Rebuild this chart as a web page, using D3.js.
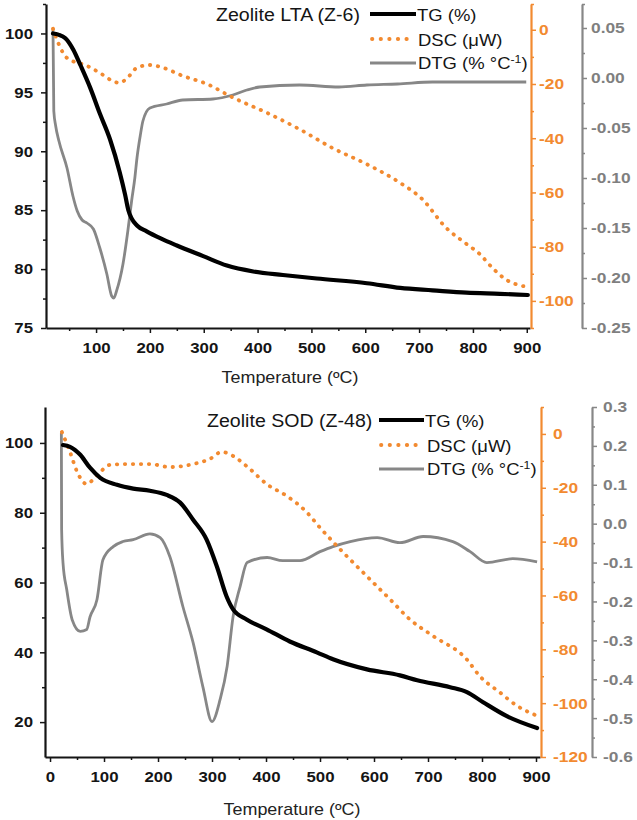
<!DOCTYPE html>
<html>
<head>
<meta charset="utf-8">
<script src="https://cdn.jsdelivr.net/npm/d3@7"></script>
<style>
  html, body { margin: 0; padding: 0; background: #fff; }
  svg { display: block; font-family: "Liberation Sans", Arial, sans-serif; }
</style>
</head>
<body>
<svg id="chart" width="637" height="820"></svg>
<script>
// ---------------- DATA ----------------
// Panel A: Zeolite LTA (Z-6)
const ltaTgTemp = [20, 30, 43, 58, 71, 89, 107, 126, 144, 154, 160, 166, 176, 194, 220, 250, 299, 343, 392, 447, 510, 603, 665, 725, 788, 850, 902];
const ltaTg     = [100, 99.9, 99.6, 98.6, 97.3, 95.4, 93.2, 91.0, 88.2, 86.3, 85.0, 84.3, 83.7, 83.2, 82.6, 82.0, 81.1, 80.3, 79.8, 79.5, 79.2, 78.8, 78.4, 78.2, 78.0, 77.9, 77.8];

const ltaDscTemp = [20, 30, 46, 83, 107, 130, 143, 157, 176, 200, 224, 261, 306, 354, 417, 478, 540, 603, 665, 705, 750, 788, 812, 837, 862, 899];
const ltaDsc     = [0.4, -5, -10.4, -13.3, -15.9, -18.8, -19.6, -18, -14, -13, -14, -17, -20, -25, -30.6, -36.7, -43.7, -49.6, -56.5, -62.3, -73, -79, -82.6, -88, -92.2, -94.8];

const ltaDtgTemp = [20, 21.5, 25, 31, 46, 57, 65, 74, 83, 95, 107, 120, 129, 133, 138, 150, 159, 166, 172, 176, 182, 187, 200, 231, 261, 317, 354, 380, 404, 478, 551, 603, 660, 725, 800, 899];
const ltaDtg     = [0.049, -0.033, -0.048, -0.063, -0.09, -0.118, -0.133, -0.142, -0.145, -0.151, -0.17, -0.196, -0.218, -0.22, -0.213, -0.186, -0.153, -0.123, -0.1, -0.08, -0.058, -0.043, -0.03, -0.026, -0.022, -0.021, -0.017, -0.012, -0.009, -0.007, -0.009, -0.007, -0.006, -0.004, -0.004, -0.004];

// Panel B: Zeolite SOD (Z-48)
const sodTgTemp = [24, 37, 56, 74, 93, 124, 154, 185, 216, 241, 265, 290, 309, 327, 339, 364, 401, 444, 494, 524, 587, 648, 680, 741, 772, 802, 846, 902];
const sodTg     = [99.4, 98.9, 96.6, 92.9, 90, 88, 86.9, 86.3, 85.1, 82.9, 78, 72.3, 64.6, 56, 52.3, 49.4, 46.6, 43.1, 40.0, 38, 35.1, 33.4, 32, 30, 28.6, 25.7, 21.7, 18.3];

const sodDscTemp = [22, 37, 50, 68, 86, 111, 142, 185, 222, 265, 296, 318, 339, 370, 401, 438, 475, 500, 537, 587, 630, 667, 709, 772, 796, 833, 865, 902];
const sodDsc     = [0.7, -6.7, -14, -18.6, -15.6, -11.5, -11.2, -11.2, -12.3, -11.2, -9.3, -6.7, -8.2, -13, -18.6, -23, -29, -34.8, -42.8, -52.9, -61.5, -69, -75, -83.8, -90, -96, -101, -104.7];

const sodDtgTemp = [21, 21.5, 24, 31, 41, 56, 68, 74, 87, 98, 117, 135, 154, 185, 204, 222, 246, 265, 283, 300, 315, 328, 339, 352, 365, 402, 431, 463, 500, 524, 556, 606, 648, 691, 746, 778, 809, 857, 902];
const sodDtg     = [0.234, -0.015, -0.1, -0.17, -0.247, -0.277, -0.272, -0.24, -0.195, -0.093, -0.059, -0.046, -0.041, -0.026, -0.036, -0.085, -0.213, -0.306, -0.419, -0.509, -0.452, -0.367, -0.239, -0.162, -0.1, -0.087, -0.095, -0.095, -0.072, -0.059, -0.046, -0.036, -0.049, -0.033, -0.046, -0.072, -0.1, -0.09, -0.098];

// Tick values
const tempTicksA = [100, 200, 300, 400, 500, 600, 700, 800, 900];
const tempTicksB = [0, 100, 200, 300, 400, 500, 600, 700, 800, 900];
const tempMinor  = [50, 150, 250, 350, 450, 550, 650, 750, 850];
const tgTicksA   = [75, 80, 85, 90, 95, 100];
const tgMinorA   = [77.5, 82.5, 87.5, 92.5, 97.5, 102.5];
const dscTicksA  = [-100, -80, -60, -40, -20, 0];
const dscMinorA  = [-110, -90, -70, -50, -30, -10, 9.5];
const dtgTicksA  = [-0.25, -0.2, -0.15, -0.1, -0.05, 0, 0.05];
const dtgMinorA  = [-0.225, -0.175, -0.125, -0.075, -0.025, 0.025, 0.074];
const tgTicksB   = [20, 40, 60, 80, 100];
const tgMinorB   = [30, 50, 70, 90];
const dscTicksB  = [-120, -100, -80, -60, -40, -20, 0];
const dscMinorB  = [-110, -90, -70, -50, -30, -10, 10];
const dtgTicksB  = [-0.6, -0.5, -0.4, -0.3, -0.2, -0.1, 0, 0.1, 0.2, 0.3];
const dtgMinorB  = [-0.55, -0.45, -0.35, -0.25, -0.15, -0.05, 0.05, 0.15, 0.25];

const titleA = "Zeolite LTA (Z-6)";
const titleB = "Zeolite SOD (Z-48)";
const seriesNames = ["TG (%)", "DSC (\u03bcW)", "DTG (% \u00b0C"];
const xTitle = "Temperature (\u00baC)";

// ---------------- STYLE ----------------
const ORANGE = "#F28A30";
const GRAY = "#878787";
const GRAYTXT = "#7f7f7f";
const INK = "#151515";
const STRETCH = 1.12;

const svg = d3.select("#chart");

function stretch(sel, s = STRETCH) {
  sel.each(function () {
    const t = d3.select(this);
    const x = +t.attr("x") || 0;
    t.attr("x", x / s).attr("transform", `scale(${s},1)`);
  });
}

function fmtInt(d) { return String(Math.round(d)); }

function panel(cfg) {
  const g = svg.append("g");
  const x = d3.scaleLinear().domain(cfg.xDomain).range([cfg.left, cfg.right]);
  const yL = d3.scaleLinear().domain(cfg.tgDomain).range([cfg.bottom, cfg.top]);
  const yO = d3.scaleLinear().domain(cfg.dscDomain).range([cfg.bottom, cfg.top]);
  const yG = d3.scaleLinear().domain(cfg.dtgDomain).range([cfg.bottom, cfg.top]);

  // --- X axis ---
  const xa = g.append("g").attr("transform", `translate(0,${cfg.bottom})`)
    .call(d3.axisBottom(x).tickValues(cfg.xTicks).tickSize(5).tickPadding(9.5).tickSizeOuter(0).tickFormat(fmtInt));
  g.append("g").attr("transform", `translate(0,${cfg.bottom})`)
    .call(d3.axisBottom(x).tickValues(tempMinor).tickSize(3).tickFormat("").tickSizeOuter(0))
    .call(s => s.select(".domain").remove())
    .call(s => s.selectAll("line").attr("stroke", INK).attr("stroke-width", 1.5));
  xa.select(".domain").attr("stroke", INK).attr("stroke-width", 2.2);
  xa.selectAll("line").attr("stroke", INK).attr("stroke-width", 1.5);
  xa.selectAll("text").attr("fill", INK).attr("font-size", 15).attr("font-weight", "bold");
  stretch(xa.selectAll("text"));

  // --- Left axis (TG) ---
  const la = g.append("g").attr("transform", `translate(${cfg.left},0)`)
    .call(d3.axisLeft(yL).tickValues(cfg.tgTicks).tickSize(5).tickPadding(cfg.leftPad).tickSizeOuter(0).tickFormat(fmtInt));
  g.append("g").attr("transform", `translate(${cfg.left},0)`)
    .call(d3.axisLeft(yL).tickValues(cfg.tgMinor).tickSize(3).tickFormat("").tickSizeOuter(0))
    .call(s => s.select(".domain").remove())
    .call(s => s.selectAll("line").attr("stroke", INK).attr("stroke-width", 1.5));
  la.select(".domain").attr("stroke", INK).attr("stroke-width", 2.2);
  la.selectAll("line").attr("stroke", INK).attr("stroke-width", 1.5);
  la.selectAll("text").attr("fill", INK).attr("font-size", 15).attr("font-weight", "bold");
  stretch(la.selectAll("text"));

  // --- Orange axis (DSC) ---
  const oa = g.append("g").attr("transform", `translate(${cfg.oAxisX},0)`)
    .call(d3.axisRight(yO).tickValues(cfg.dscTicks).tickSize(5).tickPadding(cfg.oPad).tickSizeOuter(0).tickFormat(fmtInt));
  g.append("g").attr("transform", `translate(${cfg.oAxisX},0)`)
    .call(d3.axisRight(yO).tickValues(cfg.dscMinor).tickSize(3).tickFormat("").tickSizeOuter(0))
    .call(s => s.select(".domain").remove())
    .call(s => s.selectAll("line").attr("stroke", ORANGE).attr("stroke-width", 1.5));
  oa.select(".domain").attr("stroke", ORANGE).attr("stroke-width", 2.2);
  oa.selectAll("line").attr("stroke", ORANGE).attr("stroke-width", 1.5);
  oa.selectAll("text").attr("fill", ORANGE).attr("font-size", 15.5).attr("font-weight", "bold");
  stretch(oa.selectAll("text"));

  // --- Gray axis (DTG) ---
  const ga = g.append("g").attr("transform", `translate(${cfg.gAxisX},0)`)
    .call(d3.axisRight(yG).tickValues(cfg.dtgTicks).tickSize(5).tickPadding(cfg.gPad).tickSizeOuter(0).tickFormat(cfg.dtgFmt));
  g.append("g").attr("transform", `translate(${cfg.gAxisX},0)`)
    .call(d3.axisRight(yG).tickValues(cfg.dtgMinor).tickSize(3).tickFormat("").tickSizeOuter(0))
    .call(s => s.select(".domain").remove())
    .call(s => s.selectAll("line").attr("stroke", GRAY).attr("stroke-width", 1.5));
  ga.select(".domain").attr("stroke", GRAY).attr("stroke-width", 2.2);
  ga.selectAll("line").attr("stroke", GRAY).attr("stroke-width", 1.5);
  ga.selectAll("text").attr("fill", GRAYTXT).attr("font-size", 15.5).attr("font-weight", "bold");
  stretch(ga.selectAll("text"));

  // --- Series ---
  const mk = (ys) => d3.line().x(d => x(d[0])).y(d => ys(d[1])).curve(d3.curveMonotoneX);
  const zip = (a, b) => a.map((t, i) => [t, b[i]]);

  g.append("path").datum(zip(cfg.dtgT, cfg.dtg))
    .attr("d", mk(yG)).attr("fill", "none").attr("stroke", GRAY).attr("stroke-width", 2.8)
    .attr("stroke-linejoin", "round");
  g.append("path").datum(zip(cfg.dscT, cfg.dsc))
    .attr("d", mk(yO)).attr("fill", "none").attr("stroke", ORANGE).attr("stroke-width", 3.8)
    .attr("stroke-linecap", "round").attr("stroke-dasharray", "0.4 7.6");
  g.append("path").datum(zip(cfg.tgT, cfg.tg))
    .attr("d", mk(yL)).attr("fill", "none").attr("stroke", "#000").attr("stroke-width", 4.2)
    .attr("stroke-linejoin", "round").attr("stroke-linecap", "round");

  // --- Legend ---
  const L = cfg.legend;
  const lt = g.append("text").attr("x", L.titleX).attr("y", L.titleY)
    .attr("font-size", 17.5).attr("fill", INK).text(cfg.title);
  stretch(lt);
  g.append("line").attr("x1", L.lineX1).attr("x2", L.lineX2).attr("y1", L.rows[0]).attr("y2", L.rows[0])
    .attr("stroke", "#000").attr("stroke-width", 4.2);
  g.append("line").attr("x1", L.lineX1 + 2).attr("x2", L.lineX2 - 3).attr("y1", L.rows[1]).attr("y2", L.rows[1])
    .attr("stroke", ORANGE).attr("stroke-width", 3.8).attr("stroke-linecap", "round").attr("stroke-dasharray", "0.4 8.2");
  g.append("line").attr("x1", L.lineX1).attr("x2", L.lineX2).attr("y1", L.rows[2]).attr("y2", L.rows[2])
    .attr("stroke", GRAY).attr("stroke-width", 2.8);
  const t0 = g.append("text").attr("x", L.textX0).attr("y", L.rows[0] + 7.5).attr("font-size", 16.5).attr("fill", INK).text(seriesNames[0]);
  const t1 = g.append("text").attr("x", L.textX).attr("y", L.rows[1] + 7).attr("font-size", 16.5).attr("fill", INK).text(seriesNames[1]);
  const t2 = g.append("text").attr("x", L.textX).attr("y", L.rows[2] + 6.5).attr("font-size", 16.5).attr("fill", INK);
  t2.append("tspan").text(seriesNames[2]);
  t2.append("tspan").attr("font-size", 11).attr("dy", -6).text("-1");
  t2.append("tspan").attr("dy", 6).text(")");
  stretch(t0); stretch(t1); stretch(t2);

  // --- X title ---
  const xt = g.append("text").attr("x", cfg.xTitleX).attr("y", cfg.xTitleY)
    .attr("text-anchor", "middle").attr("font-size", 16).attr("fill", "#222").text(xTitle);
  stretch(xt);
}

panel({
  xDomain: [7, 906], left: 46, right: 530, top: 4, bottom: 328,
  tgDomain: [75, 102.5], dscDomain: [-110, 9.5], dtgDomain: [-0.25, 0.074],
  xTicks: tempTicksA, tgTicks: tgTicksA, tgMinor: tgMinorA,
  dscTicks: dscTicksA, dscMinor: dscMinorA, dtgTicks: dtgTicksA, dtgMinor: dtgMinorA,
  dtgFmt: d => d.toFixed(2),
  leftPad: 8, oAxisX: 531, oPad: 3, gAxisX: 582, gPad: 4,
  tgT: ltaTgTemp, tg: ltaTg, dscT: ltaDscTemp, dsc: ltaDsc, dtgT: ltaDtgTemp, dtg: ltaDtg,
  title: titleA,
  legend: { titleX: 216, titleY: 21, lineX1: 370, lineX2: 416, textX0: 417, textX: 418, rows: [14, 39, 63] },
  xTitleX: 290, xTitleY: 383
});

panel({
  xDomain: [-9.3, 907.4], left: 45, right: 540, top: 407, bottom: 757,
  tgDomain: [10, 110.3], dscDomain: [-120, 10], dtgDomain: [-0.6, 0.3],
  xTicks: tempTicksB, tgTicks: tgTicksB, tgMinor: tgMinorB,
  dscTicks: dscTicksB, dscMinor: dscMinorB, dtgTicks: dtgTicksB, dtgMinor: dtgMinorB,
  dtgFmt: d => d.toFixed(1),
  leftPad: 7, oAxisX: 541, oPad: 7, gAxisX: 592, gPad: 6,
  tgT: sodTgTemp, tg: sodTg, dscT: sodDscTemp, dsc: sodDsc, dtgT: sodDtgTemp, dtg: sodDtg,
  title: titleB,
  legend: { titleX: 207, titleY: 427, lineX1: 379, lineX2: 424, textX0: 425, textX: 427, rows: [420, 445, 469] },
  xTitleX: 292, xTitleY: 815
});
</script>
</body>
</html>
